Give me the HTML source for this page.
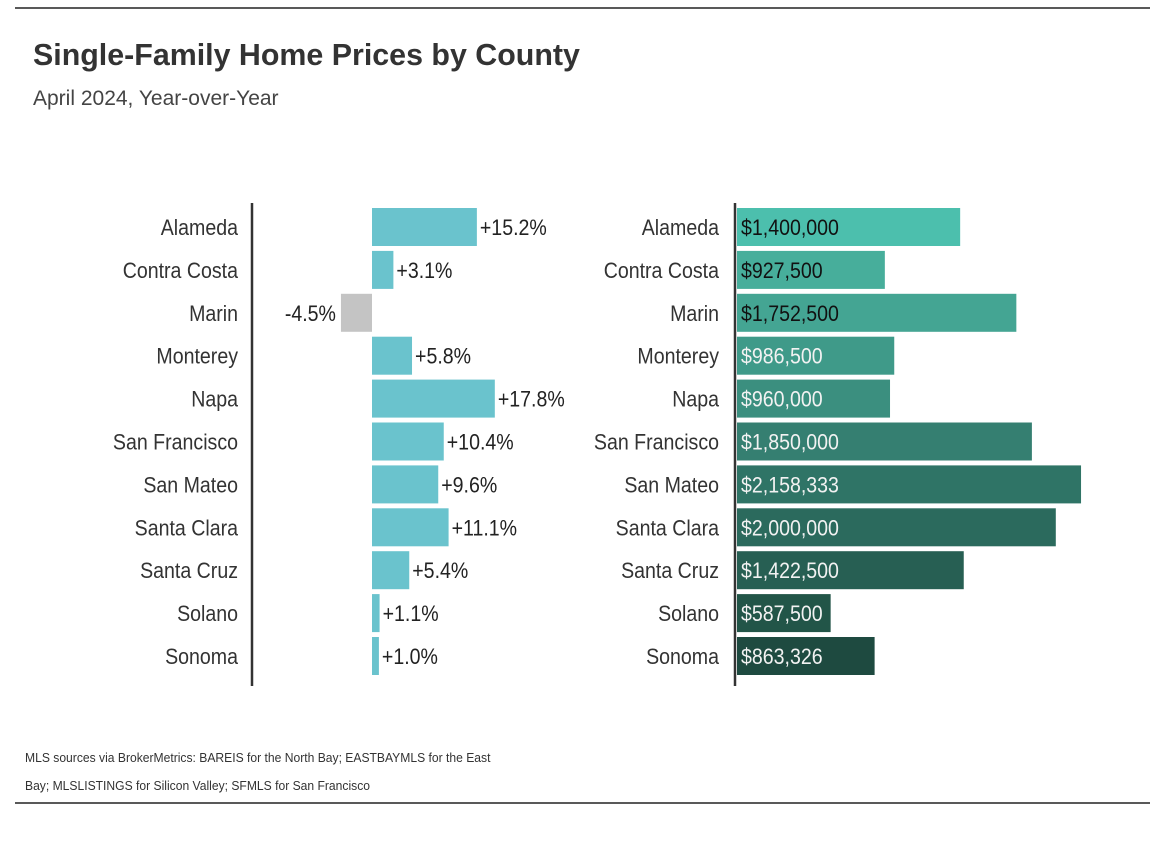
<!DOCTYPE html>
<html><head><meta charset="utf-8"><style>
body{margin:0;background:#fff;width:1174px;height:844px;overflow:hidden;font-family:"Liberation Sans",sans-serif;}
svg text{font-family:"Liberation Sans",sans-serif;}
</style></head><body>
<svg width="1174" height="844">
<line x1="15" y1="8" x2="1150" y2="8" stroke="#222" stroke-width="1.5"/>
<line x1="15" y1="803" x2="1150" y2="803" stroke="#222" stroke-width="1.5"/>
<g transform="translate(33,65) scale(0.98,1)"><text x="0" y="0" font-size="31" font-weight="bold" fill="#333">Single-Family Home Prices by County</text></g>
<text x="33" y="105" font-size="21" fill="#444">April 2024, Year-over-Year</text>
<g transform="translate(25,762) scale(0.97,1)"><text x="0" y="0" font-size="12.5" fill="#333">MLS sources via BrokerMetrics: BAREIS for the North Bay; EASTBAYMLS for the East</text></g>
<g transform="translate(25,790) scale(0.97,1)"><text x="0" y="0" font-size="12.5" fill="#333">Bay; MLSLISTINGS for Silicon Valley; SFMLS for San Francisco</text></g>
<line x1="252" y1="203" x2="252" y2="686" stroke="#333" stroke-width="2.5"/>
<line x1="735" y1="203" x2="735" y2="686" stroke="#333" stroke-width="2.5"/>
<g id="left"></g><g id="right"></g>
</svg>
<script>
const counties=["Alameda","Contra Costa","Marin","Monterey","Napa","San Francisco","San Mateo","Santa Clara","Santa Cruz","Solano","Sonoma"];
const pctChange=[15.2,3.1,-4.5,5.8,17.8,10.4,9.6,11.1,5.4,1.1,1.0];
const prices=[1400000,927500,1752500,986500,960000,1850000,2158333,2000000,1422500,587500,863326];
const colors=["#4cbfad","#47ae9b","#44a593","#3f9a89","#3b8f7f","#357f71","#2f7466","#2b6a5d","#275f53","#225548","#1e4a40"];
const NS="http://www.w3.org/2000/svg";
const rowY=i=>227+i*42.9;
const xPct=v=>372+v*6.9;
const xPrice=v=>737+v*1.594e-4;
const SX=0.89;
const L=document.getElementById('left'),R=document.getElementById('right');
function mk(tag,attrs,parent,txt){const e=document.createElementNS(NS,tag);for(const k in attrs)e.setAttribute(k,attrs[k]);if(txt!==undefined)e.textContent=txt;parent.appendChild(e);return e;}
function txt(x,y,anchor,fill,s,parent){const g=mk('g',{transform:`translate(${x},${y}) scale(${SX},1)`},parent);return mk('text',{x:0,y:0,'font-size':22,fill:fill,'text-anchor':anchor},g,s);}
counties.forEach((c,i)=>{
 const y=rowY(i);
 let t=txt(238,y+8,'end','#333',c,L);
 
 
 const v=pctChange[i];const x0=Math.min(xPct(0),xPct(v)),w=Math.abs(xPct(v)-xPct(0));
 let b=mk('rect',{x:x0,y:y-19,width:w,height:38,fill:v<0?'#c4c4c4':'#6ac3cd'},L);
 
 
 const lbl=(v>0?'+':'')+v.toFixed(1)+'%';
 let l=txt(v<0?x0-5:x0+w+3,y+8,v<0?'end':'start','#222',lbl,L);
 
 
 let t2=txt(719,y+8,'end','#333',c,R);
 
 
 let b2=mk('rect',{x:737,y:y-19,width:xPrice(prices[i])-737,height:38,fill:colors[i]},R);
 
 
 let l2=txt(741,y+8,'start',i<3?'#111':'#f2f2f2','$'+prices[i].toLocaleString('en-US'),R);
 
 
});
</script>
</body></html>
